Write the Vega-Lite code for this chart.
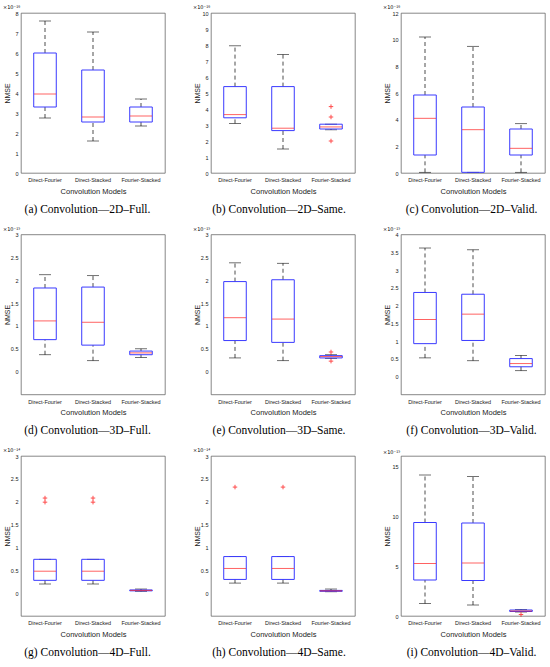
{
  "$schema": "https://vega.github.io/schema/vega-lite/v6.json",
  "padding": {"left": 2, "top": 4, "right": 0, "bottom": 0},
  "background": "white",
  "data": {
    "values": [
      {"p": "a", "m": "Direct-Fourier", "lo": 2.75, "q1": 3.3, "med": 3.95, "q3": 6.0, "hi": 7.6},
      {"p": "a", "m": "Direct-Stacked", "lo": 1.6, "q1": 2.55, "med": 2.8, "q3": 5.15, "hi": 7.05},
      {"p": "a", "m": "Fourier-Stacked", "lo": 2.35, "q1": 2.55, "med": 2.85, "q3": 3.3, "hi": 3.7},
      {"p": "b", "m": "Direct-Fourier", "lo": 3.1, "q1": 3.45, "med": 3.65, "q3": 5.4, "hi": 7.95},
      {"p": "b", "m": "Direct-Stacked", "lo": 1.5, "q1": 2.65, "med": 2.8, "q3": 5.4, "hi": 7.4},
      {"p": "b", "m": "Fourier-Stacked", "lo": 2.7, "q1": 2.75, "med": 2.88, "q3": 3.05, "hi": 3.05},
      {"p": "b", "m": "Fourier-Stacked", "v": 4.15},
      {"p": "b", "m": "Fourier-Stacked", "v": 3.5},
      {"p": "b", "m": "Fourier-Stacked", "v": 2.0},
      {"p": "c", "m": "Direct-Fourier", "lo": 0.05, "q1": 1.35, "med": 4.1, "q3": 5.85, "hi": 10.2},
      {"p": "c", "m": "Direct-Stacked", "lo": 0.05, "q1": 0.05, "med": 3.25, "q3": 4.95, "hi": 9.5},
      {"p": "c", "m": "Fourier-Stacked", "lo": 0.05, "q1": 1.35, "med": 1.85, "q3": 3.3, "hi": 3.7},
      {"p": "d", "m": "Direct-Fourier", "lo": 0.37, "q1": 0.7, "med": 1.11, "q3": 1.83, "hi": 2.12},
      {"p": "d", "m": "Direct-Stacked", "lo": 0.24, "q1": 0.58, "med": 1.08, "q3": 1.85, "hi": 2.1},
      {"p": "d", "m": "Fourier-Stacked", "lo": 0.31, "q1": 0.37, "med": 0.41, "q3": 0.45, "hi": 0.5},
      {"p": "e", "m": "Direct-Fourier", "lo": 0.3, "q1": 0.68, "med": 1.18, "q3": 1.97, "hi": 2.38},
      {"p": "e", "m": "Direct-Stacked", "lo": 0.24, "q1": 0.64, "med": 1.15, "q3": 2.01, "hi": 2.37},
      {"p": "e", "m": "Fourier-Stacked", "lo": 0.29, "q1": 0.3, "med": 0.33, "q3": 0.35, "hi": 0.37},
      {"p": "e", "m": "Fourier-Stacked", "v": 0.43},
      {"p": "e", "m": "Fourier-Stacked", "v": 0.23},
      {"p": "f", "m": "Direct-Fourier", "lo": 0.53, "q1": 0.93, "med": 1.61, "q3": 2.37, "hi": 3.62},
      {"p": "f", "m": "Direct-Stacked", "lo": 0.45, "q1": 1.02, "med": 1.76, "q3": 2.32, "hi": 3.57},
      {"p": "f", "m": "Fourier-Stacked", "lo": 0.17, "q1": 0.28, "med": 0.37, "q3": 0.51, "hi": 0.6},
      {"p": "g", "m": "Direct-Fourier", "lo": 0.2, "q1": 0.28, "med": 0.48, "q3": 0.74, "hi": 0.74},
      {"p": "g", "m": "Direct-Stacked", "lo": 0.2, "q1": 0.28, "med": 0.48, "q3": 0.74, "hi": 0.74},
      {"p": "g", "m": "Fourier-Stacked", "lo": 0.04, "q1": 0.05, "med": 0.06, "q3": 0.07, "hi": 0.09},
      {"p": "g", "m": "Direct-Fourier", "v": 2.08},
      {"p": "g", "m": "Direct-Fourier", "v": 1.99},
      {"p": "g", "m": "Direct-Stacked", "v": 2.08},
      {"p": "g", "m": "Direct-Stacked", "v": 1.99},
      {"p": "h", "m": "Direct-Fourier", "lo": 0.22, "q1": 0.3, "med": 0.54, "q3": 0.8, "hi": 0.8},
      {"p": "h", "m": "Direct-Stacked", "lo": 0.22, "q1": 0.3, "med": 0.54, "q3": 0.8, "hi": 0.8},
      {"p": "h", "m": "Fourier-Stacked", "lo": 0.03, "q1": 0.04, "med": 0.05, "q3": 0.06, "hi": 0.09},
      {"p": "h", "m": "Direct-Fourier", "v": 2.32},
      {"p": "h", "m": "Direct-Stacked", "v": 2.32},
      {"p": "i", "m": "Direct-Fourier", "lo": 1.25, "q1": 3.6, "med": 5.25, "q3": 9.35, "hi": 14.1},
      {"p": "i", "m": "Direct-Stacked", "lo": 1.1, "q1": 3.55, "med": 5.3, "q3": 9.3, "hi": 13.95},
      {"p": "i", "m": "Fourier-Stacked", "lo": 0.4, "q1": 0.45, "med": 0.5, "q3": 0.6, "hi": 0.65},
      {"p": "i", "m": "Fourier-Stacked", "v": 0.15}
    ]
  },
  "spacing": 9.5,
  "vconcat": [
    {
      "spacing": 26,
      "hconcat": [
        {
          "title": {"text": "(a) Convolution—2D–Full.", "orient": "bottom", "anchor": "middle", "offset": 9, "dx": 3.5},
          "vconcat": [{
            "width": 144, "height": 160,
            "title": {"text": "×10⁻¹⁶", "anchor": "start", "fontSize": 5, "font": "DejaVu Sans", "offset": 1},
            "transform": [{"filter": "datum.p == 'a'"}],
            "encoding": {"x": {"field": "m", "type": "nominal", "sort": ["Direct-Fourier", "Direct-Stacked", "Fourier-Stacked"], "scale": {"paddingInner": 0, "paddingOuter": 0}, "axis": {"title": "Convolution Models"}}},
            "layer": [
              {"mark": {"type": "rule", "color": "black", "strokeWidth": 0.7, "strokeDash": [4, 3]}, "encoding": {"y": {"field": "lo", "type": "quantitative", "scale": {"domain": [0, 8]}, "axis": {"title": "NMSE", "values": [0, 1, 2, 3, 4, 5, 6, 7, 8], "labelOverlap": false, "format": "~r"}}, "y2": {"field": "q1"}}},
              {"mark": {"type": "rule", "color": "black", "strokeWidth": 0.7, "strokeDash": [4, 3]}, "encoding": {"y": {"field": "q3", "type": "quantitative", "axis": {"title": "NMSE", "values": [0, 1, 2, 3, 4, 5, 6, 7, 8], "labelOverlap": false, "format": "~r"}}, "y2": {"field": "hi"}}},
              {"mark": {"type": "tick", "color": "black", "size": 12, "thickness": 0.8}, "encoding": {"y": {"field": "lo", "type": "quantitative", "axis": {"title": "NMSE", "values": [0, 1, 2, 3, 4, 5, 6, 7, 8], "labelOverlap": false, "format": "~r"}}}},
              {"mark": {"type": "tick", "color": "black", "size": 12, "thickness": 0.8}, "encoding": {"y": {"field": "hi", "type": "quantitative", "axis": {"title": "NMSE", "values": [0, 1, 2, 3, 4, 5, 6, 7, 8], "labelOverlap": false, "format": "~r"}}}},
              {"mark": {"type": "bar", "filled": false, "color": "#3a3aff", "strokeWidth": 1, "width": {"band": 0.47}}, "encoding": {"y": {"field": "q1", "type": "quantitative", "axis": {"title": "NMSE", "values": [0, 1, 2, 3, 4, 5, 6, 7, 8], "labelOverlap": false, "format": "~r"}}, "y2": {"field": "q3"}}},
              {"mark": {"type": "tick", "color": "#ff2020", "size": 22, "thickness": 1}, "encoding": {"y": {"field": "med", "type": "quantitative", "axis": {"title": "NMSE", "values": [0, 1, 2, 3, 4, 5, 6, 7, 8], "labelOverlap": false, "format": "~r"}}}},
              {"mark": {"type": "point", "shape": "M-1,0L1,0M0,-1L0,1", "filled": false, "color": "red", "size": 20, "strokeWidth": 1}, "encoding": {"y": {"field": "v", "type": "quantitative", "axis": {"title": "NMSE", "values": [0, 1, 2, 3, 4, 5, 6, 7, 8], "labelOverlap": false, "format": "~r"}}}}
            ]
          }]
        },
        {
          "title": {"text": "(b) Convolution—2D–Same.", "orient": "bottom", "anchor": "middle", "offset": 9, "dx": 5},
          "vconcat": [{
            "width": 144, "height": 160,
            "title": {"text": "×10⁻¹⁶", "anchor": "start", "fontSize": 5, "font": "DejaVu Sans", "offset": 1},
            "transform": [{"filter": "datum.p == 'b'"}],
            "encoding": {"x": {"field": "m", "type": "nominal", "sort": ["Direct-Fourier", "Direct-Stacked", "Fourier-Stacked"], "scale": {"paddingInner": 0, "paddingOuter": 0}, "axis": {"title": "Convolution Models"}}},
            "layer": [
              {"mark": {"type": "rule", "color": "black", "strokeWidth": 0.7, "strokeDash": [4, 3]}, "encoding": {"y": {"field": "lo", "type": "quantitative", "scale": {"domain": [0, 10]}, "axis": {"title": "NMSE", "values": [0, 1, 2, 3, 4, 5, 6, 7, 8, 9, 10], "labelOverlap": false, "format": "~r"}}, "y2": {"field": "q1"}}},
              {"mark": {"type": "rule", "color": "black", "strokeWidth": 0.7, "strokeDash": [4, 3]}, "encoding": {"y": {"field": "q3", "type": "quantitative", "axis": {"title": "NMSE", "values": [0, 1, 2, 3, 4, 5, 6, 7, 8, 9, 10], "labelOverlap": false, "format": "~r"}}, "y2": {"field": "hi"}}},
              {"mark": {"type": "tick", "color": "black", "size": 12, "thickness": 0.8}, "encoding": {"y": {"field": "lo", "type": "quantitative", "axis": {"title": "NMSE", "values": [0, 1, 2, 3, 4, 5, 6, 7, 8, 9, 10], "labelOverlap": false, "format": "~r"}}}},
              {"mark": {"type": "tick", "color": "black", "size": 12, "thickness": 0.8}, "encoding": {"y": {"field": "hi", "type": "quantitative", "axis": {"title": "NMSE", "values": [0, 1, 2, 3, 4, 5, 6, 7, 8, 9, 10], "labelOverlap": false, "format": "~r"}}}},
              {"mark": {"type": "bar", "filled": false, "color": "#3a3aff", "strokeWidth": 1, "width": {"band": 0.47}}, "encoding": {"y": {"field": "q1", "type": "quantitative", "axis": {"title": "NMSE", "values": [0, 1, 2, 3, 4, 5, 6, 7, 8, 9, 10], "labelOverlap": false, "format": "~r"}}, "y2": {"field": "q3"}}},
              {"mark": {"type": "tick", "color": "#ff2020", "size": 22, "thickness": 1}, "encoding": {"y": {"field": "med", "type": "quantitative", "axis": {"title": "NMSE", "values": [0, 1, 2, 3, 4, 5, 6, 7, 8, 9, 10], "labelOverlap": false, "format": "~r"}}}},
              {"mark": {"type": "point", "shape": "M-1,0L1,0M0,-1L0,1", "filled": false, "color": "red", "size": 20, "strokeWidth": 1}, "encoding": {"y": {"field": "v", "type": "quantitative", "axis": {"title": "NMSE", "values": [0, 1, 2, 3, 4, 5, 6, 7, 8, 9, 10], "labelOverlap": false, "format": "~r"}}}}
            ]
          }]
        },
        {
          "title": {"text": "(c) Convolution—2D–Valid.", "orient": "bottom", "anchor": "middle", "offset": 9, "dx": 7.5},
          "vconcat": [{
            "width": 144, "height": 160,
            "title": {"text": "×10⁻¹⁶", "anchor": "start", "fontSize": 5, "font": "DejaVu Sans", "offset": 1},
            "transform": [{"filter": "datum.p == 'c'"}],
            "encoding": {"x": {"field": "m", "type": "nominal", "sort": ["Direct-Fourier", "Direct-Stacked", "Fourier-Stacked"], "scale": {"paddingInner": 0, "paddingOuter": 0}, "axis": {"title": "Convolution Models"}}},
            "layer": [
              {"mark": {"type": "rule", "color": "black", "strokeWidth": 0.7, "strokeDash": [4, 3]}, "encoding": {"y": {"field": "lo", "type": "quantitative", "scale": {"domain": [0, 12]}, "axis": {"title": "NMSE", "values": [0, 2, 4, 6, 8, 10, 12], "labelOverlap": false, "format": "~r"}}, "y2": {"field": "q1"}}},
              {"mark": {"type": "rule", "color": "black", "strokeWidth": 0.7, "strokeDash": [4, 3]}, "encoding": {"y": {"field": "q3", "type": "quantitative", "axis": {"title": "NMSE", "values": [0, 2, 4, 6, 8, 10, 12], "labelOverlap": false, "format": "~r"}}, "y2": {"field": "hi"}}},
              {"mark": {"type": "tick", "color": "black", "size": 12, "thickness": 0.8}, "encoding": {"y": {"field": "lo", "type": "quantitative", "axis": {"title": "NMSE", "values": [0, 2, 4, 6, 8, 10, 12], "labelOverlap": false, "format": "~r"}}}},
              {"mark": {"type": "tick", "color": "black", "size": 12, "thickness": 0.8}, "encoding": {"y": {"field": "hi", "type": "quantitative", "axis": {"title": "NMSE", "values": [0, 2, 4, 6, 8, 10, 12], "labelOverlap": false, "format": "~r"}}}},
              {"mark": {"type": "bar", "filled": false, "color": "#3a3aff", "strokeWidth": 1, "width": {"band": 0.47}}, "encoding": {"y": {"field": "q1", "type": "quantitative", "axis": {"title": "NMSE", "values": [0, 2, 4, 6, 8, 10, 12], "labelOverlap": false, "format": "~r"}}, "y2": {"field": "q3"}}},
              {"mark": {"type": "tick", "color": "#ff2020", "size": 22, "thickness": 1}, "encoding": {"y": {"field": "med", "type": "quantitative", "axis": {"title": "NMSE", "values": [0, 2, 4, 6, 8, 10, 12], "labelOverlap": false, "format": "~r"}}}},
              {"mark": {"type": "point", "shape": "M-1,0L1,0M0,-1L0,1", "filled": false, "color": "red", "size": 20, "strokeWidth": 1}, "encoding": {"y": {"field": "v", "type": "quantitative", "axis": {"title": "NMSE", "values": [0, 2, 4, 6, 8, 10, 12], "labelOverlap": false, "format": "~r"}}}}
            ]
          }]
        }
      ]
    },
    {
      "spacing": 26,
      "hconcat": [
        {
          "title": {"text": "(d) Convolution—3D–Full.", "orient": "bottom", "anchor": "middle", "offset": 9, "dx": 3.5},
          "vconcat": [{
            "width": 144, "height": 160,
            "title": {"text": "×10⁻¹⁵", "anchor": "start", "fontSize": 5, "font": "DejaVu Sans", "offset": 1},
            "transform": [{"filter": "datum.p == 'd'"}],
            "encoding": {"x": {"field": "m", "type": "nominal", "sort": ["Direct-Fourier", "Direct-Stacked", "Fourier-Stacked"], "scale": {"paddingInner": 0, "paddingOuter": 0}, "axis": {"title": "Convolution Models"}}},
            "layer": [
              {"mark": {"type": "rule", "color": "black", "strokeWidth": 0.7, "strokeDash": [4, 3]}, "encoding": {"y": {"field": "lo", "type": "quantitative", "scale": {"domain": [-0.08, 3]}, "axis": {"title": "NMSE", "values": [0, 0.5, 1, 1.5, 2, 2.5, 3], "labelOverlap": false, "format": "~r"}}, "y2": {"field": "q1"}}},
              {"mark": {"type": "rule", "color": "black", "strokeWidth": 0.7, "strokeDash": [4, 3]}, "encoding": {"y": {"field": "q3", "type": "quantitative", "axis": {"title": "NMSE", "values": [0, 0.5, 1, 1.5, 2, 2.5, 3], "labelOverlap": false, "format": "~r"}}, "y2": {"field": "hi"}}},
              {"mark": {"type": "tick", "color": "black", "size": 12, "thickness": 0.8}, "encoding": {"y": {"field": "lo", "type": "quantitative", "axis": {"title": "NMSE", "values": [0, 0.5, 1, 1.5, 2, 2.5, 3], "labelOverlap": false, "format": "~r"}}}},
              {"mark": {"type": "tick", "color": "black", "size": 12, "thickness": 0.8}, "encoding": {"y": {"field": "hi", "type": "quantitative", "axis": {"title": "NMSE", "values": [0, 0.5, 1, 1.5, 2, 2.5, 3], "labelOverlap": false, "format": "~r"}}}},
              {"mark": {"type": "bar", "filled": false, "color": "#3a3aff", "strokeWidth": 1, "width": {"band": 0.47}}, "encoding": {"y": {"field": "q1", "type": "quantitative", "axis": {"title": "NMSE", "values": [0, 0.5, 1, 1.5, 2, 2.5, 3], "labelOverlap": false, "format": "~r"}}, "y2": {"field": "q3"}}},
              {"mark": {"type": "tick", "color": "#ff2020", "size": 22, "thickness": 1}, "encoding": {"y": {"field": "med", "type": "quantitative", "axis": {"title": "NMSE", "values": [0, 0.5, 1, 1.5, 2, 2.5, 3], "labelOverlap": false, "format": "~r"}}}},
              {"mark": {"type": "point", "shape": "M-1,0L1,0M0,-1L0,1", "filled": false, "color": "red", "size": 20, "strokeWidth": 1}, "encoding": {"y": {"field": "v", "type": "quantitative", "axis": {"title": "NMSE", "values": [0, 0.5, 1, 1.5, 2, 2.5, 3], "labelOverlap": false, "format": "~r"}}}}
            ]
          }]
        },
        {
          "title": {"text": "(e) Convolution—3D–Same.", "orient": "bottom", "anchor": "middle", "offset": 9, "dx": 5},
          "vconcat": [{
            "width": 144, "height": 160,
            "title": {"text": "×10⁻¹⁵", "anchor": "start", "fontSize": 5, "font": "DejaVu Sans", "offset": 1},
            "transform": [{"filter": "datum.p == 'e'"}],
            "encoding": {"x": {"field": "m", "type": "nominal", "sort": ["Direct-Fourier", "Direct-Stacked", "Fourier-Stacked"], "scale": {"paddingInner": 0, "paddingOuter": 0}, "axis": {"title": "Convolution Models"}}},
            "layer": [
              {"mark": {"type": "rule", "color": "black", "strokeWidth": 0.7, "strokeDash": [4, 3]}, "encoding": {"y": {"field": "lo", "type": "quantitative", "scale": {"domain": [-0.08, 3]}, "axis": {"title": "NMSE", "values": [0, 0.5, 1, 1.5, 2, 2.5, 3], "labelOverlap": false, "format": "~r"}}, "y2": {"field": "q1"}}},
              {"mark": {"type": "rule", "color": "black", "strokeWidth": 0.7, "strokeDash": [4, 3]}, "encoding": {"y": {"field": "q3", "type": "quantitative", "axis": {"title": "NMSE", "values": [0, 0.5, 1, 1.5, 2, 2.5, 3], "labelOverlap": false, "format": "~r"}}, "y2": {"field": "hi"}}},
              {"mark": {"type": "tick", "color": "black", "size": 12, "thickness": 0.8}, "encoding": {"y": {"field": "lo", "type": "quantitative", "axis": {"title": "NMSE", "values": [0, 0.5, 1, 1.5, 2, 2.5, 3], "labelOverlap": false, "format": "~r"}}}},
              {"mark": {"type": "tick", "color": "black", "size": 12, "thickness": 0.8}, "encoding": {"y": {"field": "hi", "type": "quantitative", "axis": {"title": "NMSE", "values": [0, 0.5, 1, 1.5, 2, 2.5, 3], "labelOverlap": false, "format": "~r"}}}},
              {"mark": {"type": "bar", "filled": false, "color": "#3a3aff", "strokeWidth": 1, "width": {"band": 0.47}}, "encoding": {"y": {"field": "q1", "type": "quantitative", "axis": {"title": "NMSE", "values": [0, 0.5, 1, 1.5, 2, 2.5, 3], "labelOverlap": false, "format": "~r"}}, "y2": {"field": "q3"}}},
              {"mark": {"type": "tick", "color": "#ff2020", "size": 22, "thickness": 1}, "encoding": {"y": {"field": "med", "type": "quantitative", "axis": {"title": "NMSE", "values": [0, 0.5, 1, 1.5, 2, 2.5, 3], "labelOverlap": false, "format": "~r"}}}},
              {"mark": {"type": "point", "shape": "M-1,0L1,0M0,-1L0,1", "filled": false, "color": "red", "size": 20, "strokeWidth": 1}, "encoding": {"y": {"field": "v", "type": "quantitative", "axis": {"title": "NMSE", "values": [0, 0.5, 1, 1.5, 2, 2.5, 3], "labelOverlap": false, "format": "~r"}}}}
            ]
          }]
        },
        {
          "title": {"text": "(f) Convolution—3D–Valid.", "orient": "bottom", "anchor": "middle", "offset": 9, "dx": 7.5},
          "vconcat": [{
            "width": 144, "height": 160,
            "title": {"text": "×10⁻¹⁵", "anchor": "start", "fontSize": 5, "font": "DejaVu Sans", "offset": 1},
            "transform": [{"filter": "datum.p == 'f'"}],
            "encoding": {"x": {"field": "m", "type": "nominal", "sort": ["Direct-Fourier", "Direct-Stacked", "Fourier-Stacked"], "scale": {"paddingInner": 0, "paddingOuter": 0}, "axis": {"title": "Convolution Models"}}},
            "layer": [
              {"mark": {"type": "rule", "color": "black", "strokeWidth": 0.7, "strokeDash": [4, 3]}, "encoding": {"y": {"field": "lo", "type": "quantitative", "scale": {"domain": [-0.06, 4]}, "axis": {"title": "NMSE", "values": [0, 0.5, 1, 1.5, 2, 2.5, 3, 3.5, 4], "labelOverlap": false, "format": "~r"}}, "y2": {"field": "q1"}}},
              {"mark": {"type": "rule", "color": "black", "strokeWidth": 0.7, "strokeDash": [4, 3]}, "encoding": {"y": {"field": "q3", "type": "quantitative", "axis": {"title": "NMSE", "values": [0, 0.5, 1, 1.5, 2, 2.5, 3, 3.5, 4], "labelOverlap": false, "format": "~r"}}, "y2": {"field": "hi"}}},
              {"mark": {"type": "tick", "color": "black", "size": 12, "thickness": 0.8}, "encoding": {"y": {"field": "lo", "type": "quantitative", "axis": {"title": "NMSE", "values": [0, 0.5, 1, 1.5, 2, 2.5, 3, 3.5, 4], "labelOverlap": false, "format": "~r"}}}},
              {"mark": {"type": "tick", "color": "black", "size": 12, "thickness": 0.8}, "encoding": {"y": {"field": "hi", "type": "quantitative", "axis": {"title": "NMSE", "values": [0, 0.5, 1, 1.5, 2, 2.5, 3, 3.5, 4], "labelOverlap": false, "format": "~r"}}}},
              {"mark": {"type": "bar", "filled": false, "color": "#3a3aff", "strokeWidth": 1, "width": {"band": 0.47}}, "encoding": {"y": {"field": "q1", "type": "quantitative", "axis": {"title": "NMSE", "values": [0, 0.5, 1, 1.5, 2, 2.5, 3, 3.5, 4], "labelOverlap": false, "format": "~r"}}, "y2": {"field": "q3"}}},
              {"mark": {"type": "tick", "color": "#ff2020", "size": 22, "thickness": 1}, "encoding": {"y": {"field": "med", "type": "quantitative", "axis": {"title": "NMSE", "values": [0, 0.5, 1, 1.5, 2, 2.5, 3, 3.5, 4], "labelOverlap": false, "format": "~r"}}}},
              {"mark": {"type": "point", "shape": "M-1,0L1,0M0,-1L0,1", "filled": false, "color": "red", "size": 20, "strokeWidth": 1}, "encoding": {"y": {"field": "v", "type": "quantitative", "axis": {"title": "NMSE", "values": [0, 0.5, 1, 1.5, 2, 2.5, 3, 3.5, 4], "labelOverlap": false, "format": "~r"}}}}
            ]
          }]
        }
      ]
    },
    {
      "spacing": 26,
      "hconcat": [
        {
          "title": {"text": "(g) Convolution—4D–Full.", "orient": "bottom", "anchor": "middle", "offset": 9, "dx": 3.5},
          "vconcat": [{
            "width": 144, "height": 160,
            "title": {"text": "×10⁻¹⁴", "anchor": "start", "fontSize": 5, "font": "DejaVu Sans", "offset": 1},
            "transform": [{"filter": "datum.p == 'g'"}],
            "encoding": {"x": {"field": "m", "type": "nominal", "sort": ["Direct-Fourier", "Direct-Stacked", "Fourier-Stacked"], "scale": {"paddingInner": 0, "paddingOuter": 0}, "axis": {"title": "Convolution Models"}}},
            "layer": [
              {"mark": {"type": "rule", "color": "black", "strokeWidth": 0.7, "strokeDash": [4, 3]}, "encoding": {"y": {"field": "lo", "type": "quantitative", "scale": {"domain": [-0.08, 3]}, "axis": {"title": "NMSE", "values": [0, 0.5, 1, 1.5, 2, 2.5, 3], "labelOverlap": false, "format": "~r"}}, "y2": {"field": "q1"}}},
              {"mark": {"type": "rule", "color": "black", "strokeWidth": 0.7, "strokeDash": [4, 3]}, "encoding": {"y": {"field": "q3", "type": "quantitative", "axis": {"title": "NMSE", "values": [0, 0.5, 1, 1.5, 2, 2.5, 3], "labelOverlap": false, "format": "~r"}}, "y2": {"field": "hi"}}},
              {"mark": {"type": "tick", "color": "black", "size": 12, "thickness": 0.8}, "encoding": {"y": {"field": "lo", "type": "quantitative", "axis": {"title": "NMSE", "values": [0, 0.5, 1, 1.5, 2, 2.5, 3], "labelOverlap": false, "format": "~r"}}}},
              {"mark": {"type": "tick", "color": "black", "size": 12, "thickness": 0.8}, "encoding": {"y": {"field": "hi", "type": "quantitative", "axis": {"title": "NMSE", "values": [0, 0.5, 1, 1.5, 2, 2.5, 3], "labelOverlap": false, "format": "~r"}}}},
              {"mark": {"type": "bar", "filled": false, "color": "#3a3aff", "strokeWidth": 1, "width": {"band": 0.47}}, "encoding": {"y": {"field": "q1", "type": "quantitative", "axis": {"title": "NMSE", "values": [0, 0.5, 1, 1.5, 2, 2.5, 3], "labelOverlap": false, "format": "~r"}}, "y2": {"field": "q3"}}},
              {"mark": {"type": "tick", "color": "#ff2020", "size": 22, "thickness": 1}, "encoding": {"y": {"field": "med", "type": "quantitative", "axis": {"title": "NMSE", "values": [0, 0.5, 1, 1.5, 2, 2.5, 3], "labelOverlap": false, "format": "~r"}}}},
              {"mark": {"type": "point", "shape": "M-1,0L1,0M0,-1L0,1", "filled": false, "color": "red", "size": 20, "strokeWidth": 1}, "encoding": {"y": {"field": "v", "type": "quantitative", "axis": {"title": "NMSE", "values": [0, 0.5, 1, 1.5, 2, 2.5, 3], "labelOverlap": false, "format": "~r"}}}}
            ]
          }]
        },
        {
          "title": {"text": "(h) Convolution—4D–Same.", "orient": "bottom", "anchor": "middle", "offset": 9, "dx": 5},
          "vconcat": [{
            "width": 144, "height": 160,
            "title": {"text": "×10⁻¹⁴", "anchor": "start", "fontSize": 5, "font": "DejaVu Sans", "offset": 1},
            "transform": [{"filter": "datum.p == 'h'"}],
            "encoding": {"x": {"field": "m", "type": "nominal", "sort": ["Direct-Fourier", "Direct-Stacked", "Fourier-Stacked"], "scale": {"paddingInner": 0, "paddingOuter": 0}, "axis": {"title": "Convolution Models"}}},
            "layer": [
              {"mark": {"type": "rule", "color": "black", "strokeWidth": 0.7, "strokeDash": [4, 3]}, "encoding": {"y": {"field": "lo", "type": "quantitative", "scale": {"domain": [-0.08, 3]}, "axis": {"title": "NMSE", "values": [0, 0.5, 1, 1.5, 2, 2.5, 3], "labelOverlap": false, "format": "~r"}}, "y2": {"field": "q1"}}},
              {"mark": {"type": "rule", "color": "black", "strokeWidth": 0.7, "strokeDash": [4, 3]}, "encoding": {"y": {"field": "q3", "type": "quantitative", "axis": {"title": "NMSE", "values": [0, 0.5, 1, 1.5, 2, 2.5, 3], "labelOverlap": false, "format": "~r"}}, "y2": {"field": "hi"}}},
              {"mark": {"type": "tick", "color": "black", "size": 12, "thickness": 0.8}, "encoding": {"y": {"field": "lo", "type": "quantitative", "axis": {"title": "NMSE", "values": [0, 0.5, 1, 1.5, 2, 2.5, 3], "labelOverlap": false, "format": "~r"}}}},
              {"mark": {"type": "tick", "color": "black", "size": 12, "thickness": 0.8}, "encoding": {"y": {"field": "hi", "type": "quantitative", "axis": {"title": "NMSE", "values": [0, 0.5, 1, 1.5, 2, 2.5, 3], "labelOverlap": false, "format": "~r"}}}},
              {"mark": {"type": "bar", "filled": false, "color": "#3a3aff", "strokeWidth": 1, "width": {"band": 0.47}}, "encoding": {"y": {"field": "q1", "type": "quantitative", "axis": {"title": "NMSE", "values": [0, 0.5, 1, 1.5, 2, 2.5, 3], "labelOverlap": false, "format": "~r"}}, "y2": {"field": "q3"}}},
              {"mark": {"type": "tick", "color": "#ff2020", "size": 22, "thickness": 1}, "encoding": {"y": {"field": "med", "type": "quantitative", "axis": {"title": "NMSE", "values": [0, 0.5, 1, 1.5, 2, 2.5, 3], "labelOverlap": false, "format": "~r"}}}},
              {"mark": {"type": "point", "shape": "M-1,0L1,0M0,-1L0,1", "filled": false, "color": "red", "size": 20, "strokeWidth": 1}, "encoding": {"y": {"field": "v", "type": "quantitative", "axis": {"title": "NMSE", "values": [0, 0.5, 1, 1.5, 2, 2.5, 3], "labelOverlap": false, "format": "~r"}}}}
            ]
          }]
        },
        {
          "title": {"text": "(i) Convolution—4D–Valid.", "orient": "bottom", "anchor": "middle", "offset": 9, "dx": 7.5},
          "vconcat": [{
            "width": 144, "height": 160,
            "title": {"text": "×10⁻¹⁵", "anchor": "start", "fontSize": 5, "font": "DejaVu Sans", "offset": 1},
            "transform": [{"filter": "datum.p == 'i'"}],
            "encoding": {"x": {"field": "m", "type": "nominal", "sort": ["Direct-Fourier", "Direct-Stacked", "Fourier-Stacked"], "scale": {"paddingInner": 0, "paddingOuter": 0}, "axis": {"title": "Convolution Models"}}},
            "layer": [
              {"mark": {"type": "rule", "color": "black", "strokeWidth": 0.7, "strokeDash": [4, 3]}, "encoding": {"y": {"field": "lo", "type": "quantitative", "scale": {"domain": [0, 15]}, "axis": {"title": "NMSE", "values": [0, 5, 10, 15], "labelOverlap": false, "format": "~r"}}, "y2": {"field": "q1"}}},
              {"mark": {"type": "rule", "color": "black", "strokeWidth": 0.7, "strokeDash": [4, 3]}, "encoding": {"y": {"field": "q3", "type": "quantitative", "axis": {"title": "NMSE", "values": [0, 5, 10, 15], "labelOverlap": false, "format": "~r"}}, "y2": {"field": "hi"}}},
              {"mark": {"type": "tick", "color": "black", "size": 12, "thickness": 0.8}, "encoding": {"y": {"field": "lo", "type": "quantitative", "axis": {"title": "NMSE", "values": [0, 5, 10, 15], "labelOverlap": false, "format": "~r"}}}},
              {"mark": {"type": "tick", "color": "black", "size": 12, "thickness": 0.8}, "encoding": {"y": {"field": "hi", "type": "quantitative", "axis": {"title": "NMSE", "values": [0, 5, 10, 15], "labelOverlap": false, "format": "~r"}}}},
              {"mark": {"type": "bar", "filled": false, "color": "#3a3aff", "strokeWidth": 1, "width": {"band": 0.47}}, "encoding": {"y": {"field": "q1", "type": "quantitative", "axis": {"title": "NMSE", "values": [0, 5, 10, 15], "labelOverlap": false, "format": "~r"}}, "y2": {"field": "q3"}}},
              {"mark": {"type": "tick", "color": "#ff2020", "size": 22, "thickness": 1}, "encoding": {"y": {"field": "med", "type": "quantitative", "axis": {"title": "NMSE", "values": [0, 5, 10, 15], "labelOverlap": false, "format": "~r"}}}},
              {"mark": {"type": "point", "shape": "M-1,0L1,0M0,-1L0,1", "filled": false, "color": "red", "size": 20, "strokeWidth": 1}, "encoding": {"y": {"field": "v", "type": "quantitative", "axis": {"title": "NMSE", "values": [0, 5, 10, 15], "labelOverlap": false, "format": "~r"}}}}
            ]
          }]
        }
      ]
    }
  ],
  "config": {
    "view": {"stroke": "#555", "strokeWidth": 0.7},
    "axis": {"labelFont": "Liberation Sans", "labelFontSize": 5.5, "labelColor": "#222", "labelOverlap": false, "labelBound": false, "labelFlush": false, "titleFont": "Liberation Sans", "titleFontWeight": "normal", "titleColor": "#222", "domain": false, "grid": false, "ticks": false},
    "axisX": {"labelAngle": 0, "titleFontSize": 7.5, "titlePadding": 4, "labelPadding": 4.5},
    "axisY": {"titleFontSize": 7, "titlePadding": 3, "labelPadding": 3, "minExtent": 8, "maxExtent": 8},
    "title": {"font": "Liberation Serif", "fontSize": 11.5, "fontWeight": "normal", "color": "black"}
  }
}
